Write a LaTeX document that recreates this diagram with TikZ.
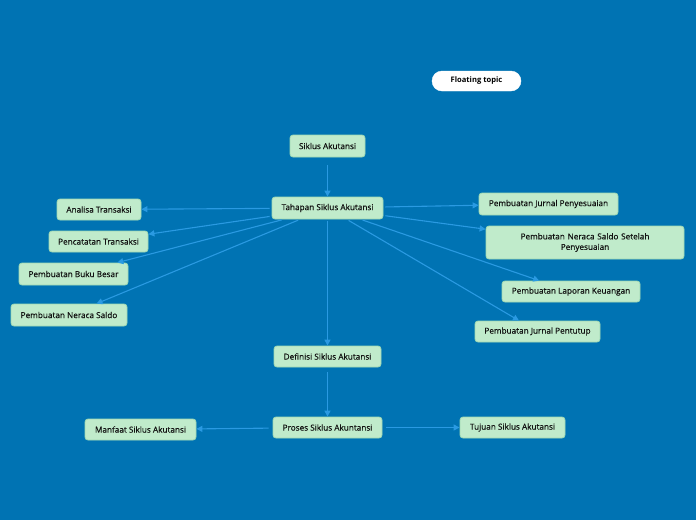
\documentclass[tikz,border=0pt]{standalone}
\usepackage{fontspec}
\setmainfont{Open Sans}
\newfontfamily\semib{Open Sans}[FakeBold=0.5]
\usetikzlibrary{arrows.meta}
\definecolor{bg}{HTML}{0073B3}
\definecolor{boxfill}{HTML}{C0EBCB}
\definecolor{boxline}{HTML}{9ED9B4}
\definecolor{conn}{HTML}{2A9AE2}
\definecolor{txt}{HTML}{111111}
\tikzset{
  topic/.style={draw=boxline, line width=0.8pt, fill=boxfill, rounded corners=3pt,
    inner sep=0pt, text=txt, font=\fontsize{8.2}{10.5}\selectfont\semib, align=center},
  floattopic/.style={draw=white, fill=white, rounded corners=10pt, inner sep=0pt,
    text=black, font=\fontsize{7.6}{9}\selectfont\bfseries},
  conn/.style={draw=conn, line width=1.1pt, shorten <=2pt,
    -{Triangle[length=6pt,width=6pt]}}
}
\begin{document}
\begin{tikzpicture}[x=1pt,y=-1pt]
\fill[bg] (0,0) rectangle (696,520);
\useasboundingbox (0,0) rectangle (696,520);

\node[floattopic, minimum width=89pt, minimum height=20pt] (ft) at (476.5,81) {Floating topic};

\node[topic, minimum width=75pt, minimum height=22pt] (siklus) at (327.5,146) {Siklus Akutansi};
\node[topic, minimum width=111pt, minimum height=22pt] (tahapan) at (327.5,208) {Tahapan Siklus Akutansi};

\node[topic, minimum width=84pt, minimum height=21pt] (analisa) at (99,209.5) {Analisa Transaksi};
\node[topic, minimum width=99pt, minimum height=21pt] (pencatatan) at (98.5,241.5) {Pencatatan Transaksi};
\node[topic, minimum width=109pt, minimum height=22pt] (buku) at (73.5,274) {Pembuatan Buku Besar};
\node[topic, minimum width=116pt, minimum height=22pt] (neraca) at (69,315) {Pembuatan Neraca Saldo};

\node[topic, minimum width=139pt, minimum height=22pt] (jpeny) at (548.5,204) {Pembuatan Jurnal Penyesuaian};
\node[topic, minimum width=198pt, minimum height=33pt, text width=198pt] (nssp) at (585,242.5) {Pembuatan Neraca Saldo Setelah\\Penyesuaian};
\node[topic, minimum width=138pt, minimum height=21pt] (lapkeu) at (571,291.5) {Pembuatan Laporan Keuangan};
\node[topic, minimum width=125pt, minimum height=21pt] (jpent) at (537.5,331.5) {Pembuatan Jurnal Pentutup};

\node[topic, minimum width=107pt, minimum height=21pt] (def) at (327.5,356.5) {Definisi Siklus Akutansi};
\node[topic, minimum width=109pt, minimum height=21pt] (proses) at (327.5,427.5) {Proses Siklus Akuntansi};
\node[topic, minimum width=111pt, minimum height=21pt] (manfaat) at (140.5,429.5) {Manfaat Siklus Akutansi};
\node[topic, minimum width=105pt, minimum height=21pt] (tujuan) at (512.5,427.5) {Tujuan Siklus Akutansi};

\draw[conn, shorten <=8pt] (siklus) -- (tahapan);
\draw[conn] (tahapan) -- (analisa);
\draw[conn] (tahapan) -- (pencatatan);
\draw[conn] (tahapan) -- (buku);
\draw[conn] (tahapan) -- (neraca);
\draw[conn] (tahapan) -- (jpeny);
\draw[conn] (tahapan) -- (nssp);
\draw[conn] (tahapan) -- (lapkeu);
\draw[conn] (tahapan) -- (jpent);
\draw[conn] (tahapan) -- (def);
\draw[conn, shorten <=5pt] (def) -- (proses);
\draw[conn, shorten <=4pt] (proses) -- (manfaat);
\draw[conn, shorten <=4pt] (proses) -- (tujuan);
\end{tikzpicture}
\end{document}
